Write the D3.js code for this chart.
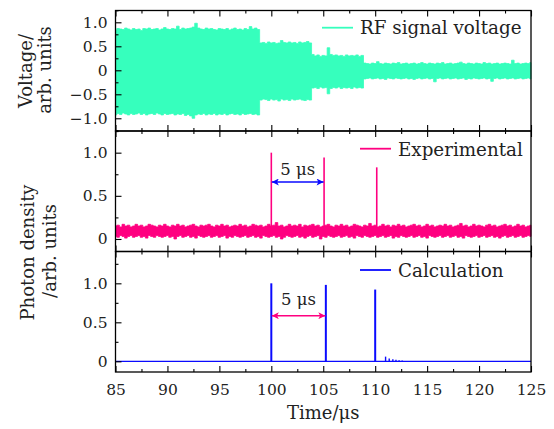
<!DOCTYPE html>
<html>
<head>
<meta charset="utf-8">
<script src="https://cdn.jsdelivr.net/npm/d3@7"></script>
<style>
  html, body { margin: 0; padding: 0; background: #fff; }
  svg { display: block; font-family: "DejaVu Serif", serif; }
</style>
</head>
<body>
<svg id="chart" width="554" height="429"></svg>
<script>
// ---- Data -----------------------------------------------------------
// Sample grid for the envelope traces (µs)
const sampleStart = 85;
const sampleStep = 0.25;

// RF signal voltage: upper / lower envelope of the oscillation (arb. units)
const rfUpper = [
  0.84,0.87,0.86,0.85,0.88,0.86,0.84,0.87,0.85,0.86,
  0.83,0.87,0.86,0.88,0.85,0.86,0.87,0.84,0.86,0.89,
  0.86,0.85,0.87,0.86,0.92,0.85,0.88,0.86,0.87,0.88,
  0.90,0.98,0.88,0.86,0.85,0.88,0.86,0.87,0.85,0.84,
  0.87,0.86,0.85,0.87,0.84,0.86,0.88,0.85,0.86,0.84,
  0.87,0.85,0.91,0.86,0.88,0.85,
  0.57,0.58,0.56,0.59,0.57,0.58,0.56,0.57,0.62,0.58,
  0.57,0.59,0.57,0.58,0.56,0.59,0.57,0.58,0.60,0.57,
  0.33,0.30,0.32,0.29,0.31,0.30,0.47,0.33,0.31,0.32,
  0.30,0.31,0.29,0.32,0.30,0.31,0.30,0.32,0.29,0.31,
  0.15,0.14,0.13,0.15,0.14,0.18,0.14,0.13,0.15,0.14,
  0.13,0.15,0.14,0.16,0.13,0.14,0.15,0.13,0.14,0.15,
  0.13,0.14,0.16,0.14,0.13,0.15,0.14,0.13,0.15,0.14,
  0.16,0.13,0.14,0.15,0.13,0.14,0.15,0.17,0.14,0.13,
  0.15,0.14,0.13,0.15,0.14,0.13,0.16,0.14,0.15,0.13,
  0.14,0.15,0.13,0.14,0.15,0.14,0.13,0.21,0.14,0.15,
  0.13,0.14,0.15,0.14,0.16
];
const rfLower = [
  -0.93,-0.90,-0.92,-0.89,-0.91,-0.93,-0.90,-0.92,-0.91,-0.89,
  -0.92,-0.90,-0.93,-0.91,-0.90,-0.92,-0.89,-0.91,-0.93,-0.90,
  -0.92,-0.91,-0.90,-0.93,-0.91,-0.92,-0.90,-0.94,-0.92,-0.95,
  -1.00,-0.93,-0.91,-0.92,-0.90,-0.93,-0.91,-0.92,-0.90,-0.93,
  -0.91,-0.92,-0.90,-0.93,-0.91,-0.90,-0.92,-0.91,-0.93,-0.90,
  -0.92,-0.91,-0.90,-0.92,-0.91,-0.93,
  -0.62,-0.60,-0.61,-0.63,-0.60,-0.62,-0.61,-0.64,-0.60,-0.62,
  -0.61,-0.63,-0.60,-0.62,-0.61,-0.60,-0.62,-0.63,-0.61,-0.62,
  -0.37,-0.36,-0.38,-0.35,-0.37,-0.36,-0.49,-0.38,-0.36,-0.37,
  -0.35,-0.38,-0.36,-0.37,-0.36,-0.38,-0.35,-0.37,-0.36,-0.37,
  -0.18,-0.17,-0.16,-0.18,-0.17,-0.16,-0.18,-0.17,-0.19,-0.16,
  -0.17,-0.18,-0.16,-0.17,-0.18,-0.17,-0.16,-0.18,-0.17,-0.19,
  -0.17,-0.16,-0.18,-0.17,-0.16,-0.18,-0.17,-0.24,-0.17,-0.16,
  -0.18,-0.17,-0.16,-0.18,-0.17,-0.16,-0.18,-0.17,-0.16,-0.19,
  -0.17,-0.18,-0.16,-0.17,-0.18,-0.17,-0.16,-0.18,-0.17,-0.23,
  -0.17,-0.16,-0.18,-0.17,-0.16,-0.18,-0.17,-0.16,-0.18,-0.17,
  -0.16,-0.18,-0.17,-0.16,-0.18
];

// Experimental photon density: noise floor envelope
const expUpper = [
  0.15,0.16,0.14,0.17,0.15,0.16,0.14,0.15,0.17,0.15,
  0.16,0.14,0.15,0.17,0.16,0.15,0.14,0.16,0.15,0.17,
  0.15,0.14,0.16,0.15,0.17,0.15,0.16,0.14,0.15,0.16,
  0.17,0.15,0.14,0.16,0.15,0.16,0.17,0.15,0.14,0.16,
  0.15,0.17,0.15,0.16,0.14,0.15,0.16,0.15,0.17,0.15,
  0.16,0.14,0.15,0.17,0.16,0.15,0.16,0.14,0.15,0.17,
  0.15,0.16,0.19,0.15,0.16,0.14,0.15,0.17,0.15,0.16,
  0.15,0.17,0.14,0.16,0.15,0.16,0.17,0.15,0.16,0.14,
  0.15,0.16,0.17,0.15,0.14,0.16,0.15,0.17,0.15,0.16,
  0.14,0.15,0.17,0.16,0.15,0.14,0.16,0.15,0.18,0.15,
  0.16,0.14,0.15,0.17,0.15,0.16,0.14,0.16,0.15,0.17,
  0.15,0.16,0.14,0.15,0.16,0.17,0.15,0.16,0.14,0.15,
  0.17,0.15,0.16,0.14,0.15,0.16,0.15,0.17,0.15,0.16,
  0.14,0.15,0.16,0.18,0.15,0.16,0.14,0.15,0.17,0.15,
  0.16,0.15,0.14,0.16,0.17,0.15,0.16,0.14,0.15,0.16,
  0.17,0.15,0.16,0.14,0.15,0.17,0.15,0.16,0.14,0.15,
  0.16
];
const expLower = [
  0.03,0.02,0.04,0.03,0.01,0.03,0.04,0.02,0.03,0.04,
  0.02,0.03,0.01,0.04,0.03,0.02,0.04,0.03,0.02,0.03,
  0.04,0.02,0.03,0.00,0.03,0.04,0.02,0.03,0.04,0.02,
  0.03,0.01,0.04,0.03,0.02,0.03,0.04,0.02,0.03,0.04,
  0.02,0.03,0.04,0.01,0.03,0.02,0.04,0.03,0.02,0.03,
  0.04,0.02,0.03,0.04,0.02,0.03,0.01,0.04,0.03,0.02,
  0.03,0.04,0.02,0.03,0.00,0.02,0.04,0.03,0.02,0.03,
  0.04,0.02,0.03,0.01,0.03,0.04,0.02,0.03,0.04,0.00,
  0.03,0.02,0.04,0.03,0.02,0.03,0.04,0.02,0.03,0.04,
  0.02,0.03,0.01,0.04,0.03,0.02,0.04,0.03,0.02,0.03,
  0.04,0.02,0.03,0.04,0.02,0.03,0.04,0.01,0.03,0.02,
  0.04,0.03,0.02,0.03,0.04,0.02,0.03,0.04,0.02,0.03,
  0.01,0.04,0.03,0.02,0.03,0.04,0.02,0.03,0.04,0.02,
  0.03,0.04,0.02,0.03,0.01,0.04,0.03,0.02,0.03,0.04,
  0.02,0.03,0.04,0.02,0.03,0.04,0.02,0.03,0.01,0.03,
  0.04,0.02,0.03,0.04,0.02,0.03,0.04,0.02,0.03,0.04,
  0.03
];
const expPeakTime  = [100.0, 105.08, 110.15];
const expPeakValue = [1.0, 0.945, 0.83];
const expBase = 0.1;

// Calculated photon density
const calcBaseTime  = [85, 125];
const calcBaseValue = [0, 0];
const calcPeakTime  = [100.0, 105.25, 110.0, 111.0, 111.35, 111.7, 112.0, 112.3, 112.6];
const calcPeakValue = [1.0, 0.98, 0.92, 0.06, 0.035, 0.025, 0.02, 0.015, 0.01];

// Pulse spacing annotations
const expSpan   = [100.0, 105.08];
const expSpanY  = 0.66;
const calcSpan  = [100.0, 105.25];
const calcSpanY = 0.585;
const spanLabel = "5 μs";

// Axis ticks
const xTicks = [85, 90, 95, 100, 105, 110, 115, 120, 125];
const xMinorTicks = d3.range(87.5, 125, 5);
const rfTicks = [-1.0, -0.5, 0, 0.5, 1.0];
const rfMinor = [-1.25, -0.75, -0.25, 0.25, 0.75, 1.25];
const phTicks = [0, 0.5, 1.0];
const phMinor = [0.25, 0.75, 1.25];

// ---- Layout ---------------------------------------------------------
const svg = d3.select("#chart");
const left = 115.5, right = 531;
const panels = [
  { top: 10.5, bottom: 131, domain: [-1.265, 1.246] },
  { top: 131, bottom: 251.5, domain: [-0.145, 1.251] },
  { top: 251.5, bottom: 372, domain: [-0.137, 1.408] }
];
const colors = { rf: "#36ffbd", exp: "#ff0080", calc: "#0a0aff", arrowExp: "#0a0aff", arrowCalc: "#ff0080" };

const x = d3.scaleLinear().domain([85, 125]).range([left, right]);
panels.forEach(p => {
  p.y = d3.scaleLinear().domain(p.domain).range([p.bottom, p.top]);
});
const tAt = i => sampleStart + i * sampleStep;
const fmt = d => d === 0 ? "0" : d3.format(".1f")(d);

// ---- Traces ---------------------------------------------------------
// RF voltage band
{
  const p = panels[0];
  const area = d3.area()
    .x((d, i) => x(tAt(i)))
    .y0((d, i) => p.y(rfLower[i]))
    .y1(d => p.y(d))
    .curve(d3.curveStep);
  svg.append("path").datum(rfUpper)
    .attr("d", area)
    .attr("fill", colors.rf)
    .attr("stroke", colors.rf)
    .attr("stroke-width", 0.8);
}

// Experimental trace
{
  const p = panels[1];
  const area = d3.area()
    .x((d, i) => x(tAt(i)))
    .y0((d, i) => p.y(expLower[i]))
    .y1(d => p.y(d))
    .curve(d3.curveStep);
  svg.append("path").datum(expUpper)
    .attr("d", area)
    .attr("fill", colors.exp)
    .attr("stroke", colors.exp)
    .attr("stroke-width", 0.8);
  svg.selectAll(".exp-peak").data(expPeakTime).join("line")
    .attr("class", "exp-peak")
    .attr("x1", d => x(d)).attr("x2", d => x(d))
    .attr("y1", p.y(expBase))
    .attr("y2", (d, i) => p.y(expPeakValue[i]))
    .attr("stroke", colors.exp)
    .attr("stroke-width", 1.6);
}

// Calculated trace
{
  const p = panels[2];
  const line = d3.line().x(d => x(d[0])).y(d => p.y(d[1]));
  svg.append("path")
    .datum(calcBaseTime.map((t, i) => [t, calcBaseValue[i]]))
    .attr("d", line)
    .attr("fill", "none")
    .attr("stroke", colors.calc)
    .attr("stroke-width", 1.2);
  svg.selectAll(".calc-peak").data(calcPeakTime).join("line")
    .attr("class", "calc-peak")
    .attr("x1", d => x(d)).attr("x2", d => x(d))
    .attr("y1", p.y(0))
    .attr("y2", (d, i) => p.y(calcPeakValue[i]))
    .attr("stroke", colors.calc)
    .attr("stroke-width", (d, i) => i < 3 ? 2 : 1.4);
}

// ---- Pulse spacing arrows --------------------------------------------
const defs = svg.append("defs");
function addMarker(id, color) {
  const m = defs.append("marker")
    .attr("id", id)
    .attr("viewBox", "0 0 10 10")
    .attr("refX", 10).attr("refY", 5)
    .attr("markerUnits", "userSpaceOnUse")
    .attr("markerWidth", 8).attr("markerHeight", 7)
    .attr("orient", "auto-start-reverse");
  m.append("path").attr("d", "M0,0 L10,5 L0,10 L2.5,5 Z").attr("fill", color);
}
addMarker("arrow-exp", colors.arrowExp);
addMarker("arrow-calc", colors.arrowCalc);

function spanArrow(p, span, yv, color, markerId, labelY) {
  svg.append("line")
    .attr("x1", x(span[0]) + 0.5).attr("x2", x(span[1]) - 0.5)
    .attr("y1", p.y(yv)).attr("y2", p.y(yv))
    .attr("stroke", color).attr("stroke-width", 1.6)
    .attr("marker-start", `url(#${markerId})`)
    .attr("marker-end", `url(#${markerId})`);
  svg.append("text")
    .attr("x", x((span[0] + span[1]) / 2))
    .attr("y", p.y(labelY))
    .attr("text-anchor", "middle")
    .attr("font-size", 16.5)
    .attr("fill", "#222")
    .attr("xml:space", "preserve")
    .text(spanLabel);
}
spanArrow(panels[1], expSpan, expSpanY, colors.arrowExp, "arrow-exp", 0.74);
spanArrow(panels[2], calcSpan, calcSpanY, colors.arrowCalc, "arrow-calc", 0.725);

// ---- Axes -----------------------------------------------------------
panels.forEach((p, idx) => {
  const g = svg.append("g").attr("class", "axes");
  // frame
  g.append("rect")
    .attr("x", left).attr("y", p.top)
    .attr("width", right - left).attr("height", p.bottom - p.top)
    .attr("fill", "none").attr("stroke", "#000").attr("stroke-width", 1.3);

  const major = idx === 0 ? rfTicks : phTicks;
  const minor = idx === 0 ? rfMinor : phMinor;

  const yAxis = g.append("g").attr("transform", `translate(${left},0)`)
    .call(d3.axisLeft(p.y).tickValues(major).tickSize(-6).tickPadding(8).tickFormat(fmt));
  yAxis.append("g")
    .call(d3.axisLeft(p.y).tickValues(minor).tickSize(-3).tickFormat(""));

  const xb = g.append("g").attr("transform", `translate(0,${p.bottom})`)
    .call(d3.axisBottom(x).tickValues(xTicks).tickSize(-6).tickPadding(11.5)
      .tickFormat(idx === 2 ? d3.format("d") : ""));
  xb.append("g").call(d3.axisBottom(x).tickValues(xMinorTicks).tickSize(-3).tickFormat(""));

  const xt = g.append("g").attr("transform", `translate(0,${p.top})`)
    .call(d3.axisTop(x).tickValues(xTicks).tickSize(-6).tickFormat(""));
  xt.append("g").call(d3.axisTop(x).tickValues(xMinorTicks).tickSize(-3).tickFormat(""));

  g.selectAll(".domain").remove();
  g.selectAll(".tick line").attr("stroke", "#000").attr("stroke-width", 1.1);
  g.selectAll(".tick text")
    .attr("font-family", "DejaVu Serif, serif")
    .attr("font-size", 15.5)
    .attr("fill", "#222");
});

// ---- Legends --------------------------------------------------------
const legends = [
  { x1: 322, y: 27.7, tx: 360, ty: 34, color: colors.rf, label: "RF signal voltage" },
  { x1: 360, y: 148.7, tx: 398, ty: 156, color: colors.exp, label: "Experimental" },
  { x1: 360, y: 270, tx: 398, ty: 276.5, color: colors.calc, label: "Calculation" }
];
legends.forEach(l => {
  svg.append("line")
    .attr("x1", l.x1).attr("x2", l.x1 + 31)
    .attr("y1", l.y).attr("y2", l.y)
    .attr("stroke", l.color).attr("stroke-width", 1.8);
  svg.append("text")
    .attr("x", l.tx).attr("y", l.ty)
    .attr("font-size", 18.3)
    .attr("fill", "#222")
    .text(l.label);
});

// ---- Axis titles ----------------------------------------------------
function vTitle(text, bx, cy) {
  svg.append("text")
    .attr("transform", `translate(${bx},${cy}) rotate(-90)`)
    .attr("text-anchor", "middle")
    .attr("font-size", 18)
    .attr("fill", "#222")
    .text(text);
}
vTitle("Voltage/", 31.5, 71);
vTitle("arb. units", 51, 70);
vTitle("Photon density", 33.5, 252.5);
vTitle("/arb. units", 56, 251);

svg.append("text")
  .attr("x", (left + right) / 2).attr("y", 418.5)
  .attr("text-anchor", "middle")
  .attr("font-size", 18)
  .attr("fill", "#222")
  .text("Time/μs");
</script>
</body>
</html>
